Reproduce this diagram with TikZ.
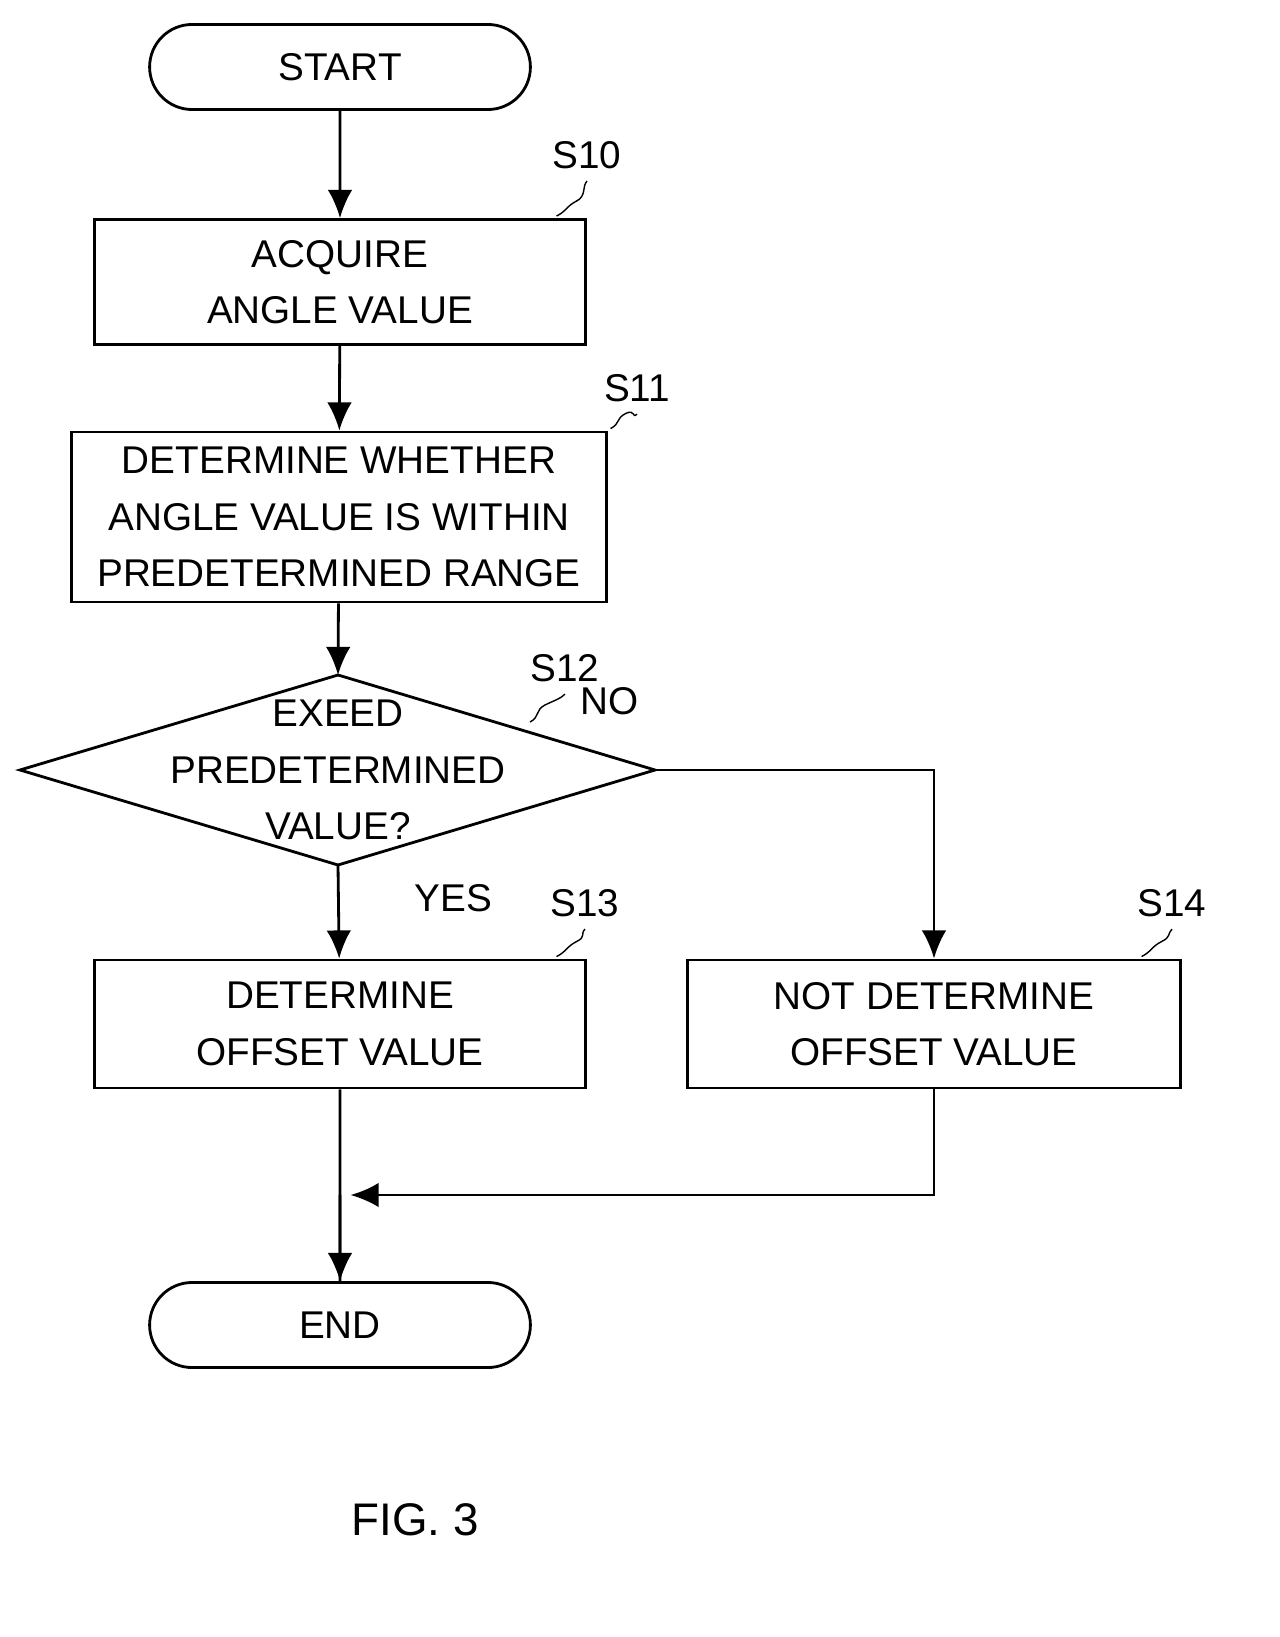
\documentclass[tikz,border=0pt]{standalone}
\usepackage{fontspec}
\setmainfont{Liberation Sans}
\usetikzlibrary{shapes.geometric}
\usetikzlibrary{shapes.misc}
\usetikzlibrary{arrows.meta}
\tikzset{
	every node/.style = {font=\fontsize{11}{16}\selectfont, align=center},
	proc/.style = {draw, thick, rectangle, inner sep=0pt},
	term/.style = {draw, thick, rounded rectangle, minimum width=4.04cm, minimum height=0.85cm},
	flow/.style = {thick, -{Latex[length=8pt,width=7pt]}},
	tag/.style = {thin}
}
\begin{document}
\begin{tikzpicture}[x=0.01cm, y=-0.01cm]
		\useasboundingbox (0,0) rectangle (1279,1637);
		% terminals
		\node[term] (start) at (340,67) {START};
		\node[term] (end) at (340,1325) {END};
		% process steps
		\node[proc, minimum width=4.9cm, minimum height=1.25cm] (acq) at (340,282) {ACQUIRE\\ANGLE VALUE};
		\node[proc, minimum width=5.34cm, minimum height=1.7cm] (rng) at (339,517) {DETERMINE WHETHER\\ANGLE VALUE IS WITHIN\\PREDETERMINED RANGE};
		% decision
		\node (exc) at (338,770) {EXEED\\PREDETERMINED\\VALUE?};
		\coordinate (excN) at (338,675);
		\coordinate (excS) at (338,865);
		\coordinate (excW) at (20,770);
		\coordinate (excE) at (655,770);
		\draw[thick] (excN) -- (excE) -- (excS) -- (excW) -- cycle;
		\node[proc, minimum width=4.9cm, minimum height=1.28cm] (off) at (340,1024) {DETERMINE\\OFFSET VALUE};
		\node[proc, minimum width=4.92cm, minimum height=1.28cm] (noff) at (934,1024) {NOT DETERMINE\\OFFSET VALUE};
		% step tags
		\node (t10) at (587,155) {S10};
		\node (t11) at (637,388) {S11};
		\node (t12) at (565,668) {S12};
		\node (t13) at (585,903) {S13};
		\node (t14) at (1172,903) {S14};
		\draw[tag] (acq.north east) ++(-30,-2) .. controls +(10,-5) and +(-10,5) .. ++(20,-15) .. controls +(10,-5) and +(-5,5) .. (t10.south);
		\draw[tag] (rng.north east) ++(3,-2) .. controls +(10,-5) and +(-10,5) .. ++(15,-15) .. controls +(10,-5) and +(-5,5) .. (t11.south);
		\draw[tag] (530,722) .. controls +(10,-5) and +(-10,5) .. (545,705) .. controls +(10,-5) and +(-5,5) .. (t12.south);
		\draw[tag] (off.north east) ++(-30,-2) .. controls +(10,-5) and +(-10,5) .. ++(20,-15) .. controls +(10,-5) and +(-5,5) .. (t13.south);
		\draw[tag] (noff.north east) ++(-40,-2) .. controls +(10,-5) and +(-10,5) .. ++(20,-15) .. controls +(10,-5) and +(-5,5) .. (t14.south);
		% connectors
		\coordinate (join) at (340,1195);
		\draw[flow] (start) -- (acq);
		\draw[flow] (acq) -- (rng);
		\draw[flow] (rng) -- (excN);
		\draw[flow] (excS) -- node[right=18pt, pos=0.35] {YES} (off);
		\draw[flow] (excE) -| node[pos=0.0, anchor=south west, yshift=12pt, xshift=-25pt] {NO} (noff.north);
		\draw[thick] (off) -- (end);
		\draw[flow] (noff.south) |- ([xshift=3pt]join);
		\draw[flow] (join) -- (end);
		% caption
		\node (fig) at (415,1520) {\fontsize{13}{16}\selectfont FIG. 3};
\end{tikzpicture}
\end{document}
